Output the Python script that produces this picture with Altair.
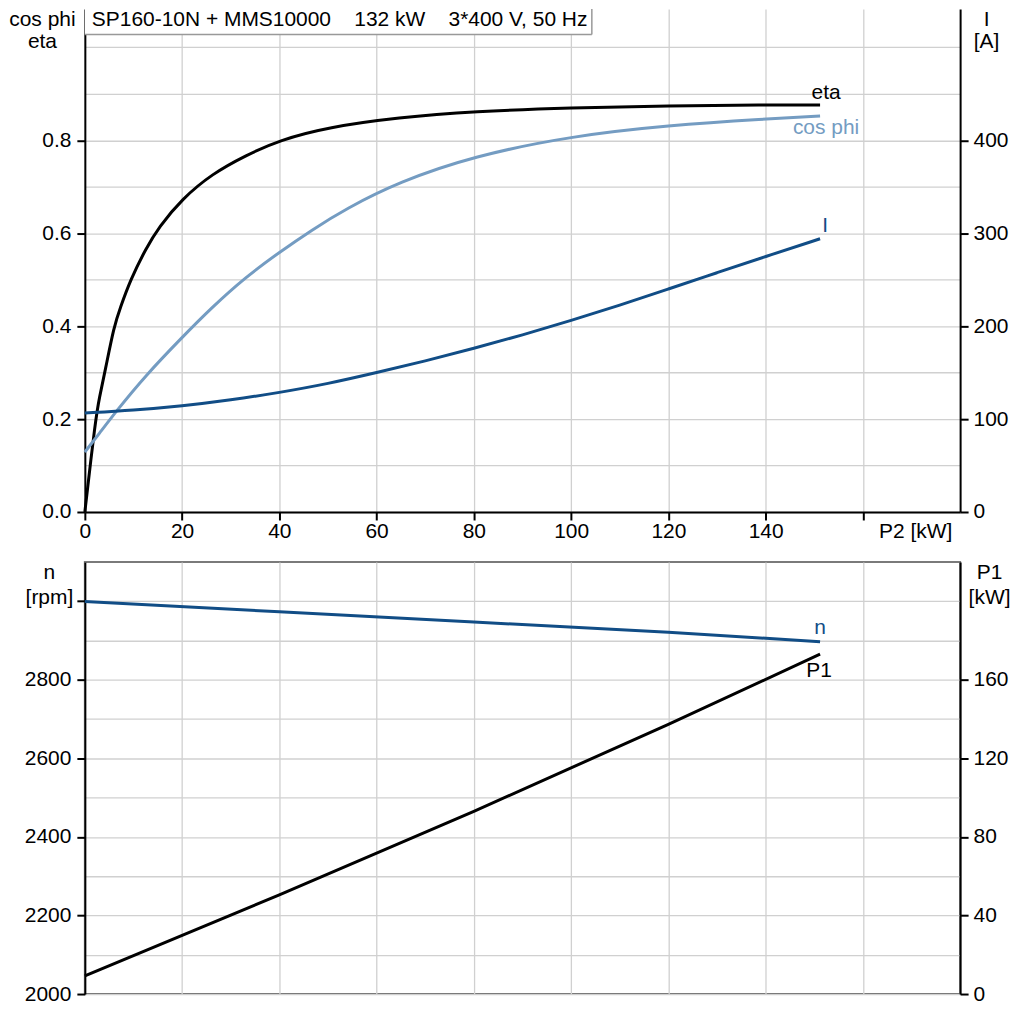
import altair as alt
import pandas as pd

FONT = "Liberation Sans"
FS = 21
C_ETA = "#000000"
C_COS = "#749cc2"
C_I = "#114d86"
C_GRID = "#d0d0d0"

NB = "\u00a0" * 4
TITLE = "SP160-10N + MMS10000" + NB + "132 kW" + NB + "3*400 V, 50 Hz"

# ---- top panel data (P2 in kW) ----
p2_eta = [0, 2.2, 3.0, 4.2, 6.0, 7.3, 9.4, 12.5, 15.2, 20, 26.2, 33, 40, 50, 64.5, 80, 100, 120, 140, 151.2]
eta = [0, 0.2, 0.247, 0.305, 0.4, 0.44, 0.5, 0.566, 0.613, 0.674, 0.728, 0.767, 0.8, 0.828, 0.849, 0.862, 0.870, 0.874, 0.876, 0.876]

p2_cos = [0, 2.9, 6.3, 12.5, 20, 26.2, 33, 40, 46.7, 53.6, 64.5, 80, 100, 120, 140, 151.2]
cosphi = [0.129, 0.168, 0.215, 0.294, 0.376, 0.441, 0.505, 0.559, 0.607, 0.652, 0.710, 0.766, 0.809, 0.832, 0.846, 0.852]

p2_i = [0, 10, 20, 30, 40, 50, 60, 70, 80, 90, 100, 110, 120, 130, 140, 151.2]
current = [106.5, 109.5, 114, 120.5, 128.5, 138, 150, 162.5, 176, 190.5, 206, 222.5, 240, 257.5, 275, 294]

# ---- bottom panel data ----
p2_bot = [0, 40, 80, 120, 151.2]
speed = [2999, 2973, 2947, 2921, 2897]
p1 = [9.3, 50.5, 93, 137.3, 173]

x_ticks = [0, 20, 40, 60, 80, 100, 120, 140, 160]
y_top_grid = [round(i * 0.1, 1) for i in range(11)]
i_ticks = [0, 100, 200, 300, 400]
n_grid = list(range(2000, 3001, 100))
p1_ticks = [0, 40, 80, 120, 160]

df_eta = pd.DataFrame({"P2": p2_eta, "v": eta})
df_cos = pd.DataFrame({"P2": p2_cos, "v": cosphi})
df_i = pd.DataFrame({"P2": p2_i, "I": current})
df_n = pd.DataFrame({"P2": p2_bot, "n": speed})
df_p1 = pd.DataFrame({"P2": p2_bot, "P1": p1})


def last(df, col, text):
    return pd.DataFrame({"P2": [df["P2"].iloc[-1]], col: [df[col].iloc[-1]], "t": [text]})


XDOM = alt.Scale(domain=[0, 180], nice=False, zero=False)

x_top = alt.X(
    "P2:Q", scale=XDOM,
    axis=alt.Axis(
        values=x_ticks, grid=True, labelFlush=False, labelPadding=1,
        labelExpr="datum.value >= 160 ? '' : datum.label",
        title="P2 [kW]", titleX=832, titleY=26, titleAlign="center",
        titleBaseline="alphabetic", titleAngle=0,
    ),
)
x_bot = alt.X(
    "P2:Q", scale=XDOM,
    axis=alt.Axis(values=x_ticks, grid=True, labels=False, ticks=False, domain=False, title=None),
)

y_left = alt.Y(
    "v:Q", scale=alt.Scale(domain=[0, 1.0825], nice=False),
    axis=alt.Axis(
        values=y_top_grid, grid=True, labelFlush=False, labelPadding=6,
        labelExpr="(round(datum.value*10) % 2 == 0 && datum.value < 0.9) ? format(datum.value, '.1f') : ''",
        tickOpacity={"condition": {"test": "round(datum.value*10) % 2 == 0 && datum.value < 0.9", "value": 1}, "value": 0},
        title=["cos phi", "eta"], titleAngle=0, titleX=-43, titleY=0,
        titleAlign="center", titleBaseline="top", titleLineHeight=22,
    ),
)
y_right = alt.Y(
    "I:Q", scale=alt.Scale(domain=[0, 541.3], nice=False),
    axis=alt.Axis(
        orient="right", values=i_ticks, grid=False, labelFlush=False, labelPadding=5,
        title=["I", "[A]"], titleAngle=0, titleX=26, titleY=0,
        titleAlign="center", titleBaseline="top", titleLineHeight=22,
    ),
)
y_n = alt.Y(
    "n:Q", scale=alt.Scale(domain=[2000, 3100], nice=False, zero=False),
    axis=alt.Axis(
        values=n_grid, grid=True, labelFlush=False, labelPadding=6,
        labelExpr="(datum.value % 200 == 0 && datum.value <= 2800) ? datum.label : ''",
        tickOpacity={"condition": {"test": "datum.value % 200 == 0", "value": 1}, "value": 0},
        format="d",
        title=["n", "[rpm]"], titleAngle=0, titleX=-36, titleY=17,
        titleAlign="center", titleBaseline="alphabetic", titleLineHeight=25,
    ),
)
y_p1 = alt.Y(
    "P1:Q", scale=alt.Scale(domain=[0, 220], nice=False),
    axis=alt.Axis(
        orient="right", values=p1_ticks, grid=False, labelFlush=False, labelPadding=5,
        title=["P1", "[kW]"], titleAngle=0, titleX=29, titleY=17,
        titleAlign="center", titleBaseline="alphabetic", titleLineHeight=25,
    ),
)

LW = 3
eta_line = alt.Chart(df_eta).mark_line(color=C_ETA, strokeWidth=LW, interpolate="basis").encode(x=x_top, y=y_left)
cos_line = alt.Chart(df_cos).mark_line(color=C_COS, strokeWidth=LW, interpolate="basis").encode(x=x_top, y=y_left)
eta_lab = alt.Chart(last(df_eta, "v", "eta")).mark_text(
    font=FONT, fontSize=FS, color=C_ETA, align="center", baseline="alphabetic", dx=6, dy=-6
).encode(x=x_top, y=y_left, text="t:N")
cos_lab = alt.Chart(last(df_cos, "v", "cos phi")).mark_text(
    font=FONT, fontSize=FS, color=C_COS, align="center", baseline="alphabetic", dx=6, dy=18
).encode(x=x_top, y=y_left, text="t:N")

df_title = pd.DataFrame({"t": [TITLE]})
box = alt.Chart(df_title).mark_rect(fill="white").encode(
    x=alt.value(0), x2=alt.value(508), y=alt.value(0), y2=alt.value(25.5))
box_r = alt.Chart(df_title).mark_rule(color="#999999", strokeWidth=1.5).encode(
    x=alt.value(508), y=alt.value(0), y2=alt.value(25.5))
box_b = alt.Chart(df_title).mark_rule(color="#999999", strokeWidth=1.5).encode(
    x=alt.value(0), x2=alt.value(508), y=alt.value(25.5))
title_txt = alt.Chart(df_title).mark_text(
    font=FONT, fontSize=FS, color="black", align="left", baseline="alphabetic"
).encode(x=alt.value(7), y=alt.value(17), text="t:N")

i_line = alt.Chart(df_i).mark_line(color=C_I, strokeWidth=LW, interpolate="basis").encode(x=x_top, y=y_right)
i_lab = alt.Chart(last(df_i, "I", "I")).mark_text(
    font=FONT, fontSize=FS, color=C_I, align="center", baseline="alphabetic", dx=5, dy=-7
).encode(x=x_top, y=y_right, text="t:N")

top = alt.layer(
    alt.layer(eta_line, cos_line, eta_lab, cos_lab, box, box_r, box_b, title_txt),
    alt.layer(i_line, i_lab),
).resolve_scale(y="independent").properties(
    width=877, height=504, view=alt.ViewBackground(stroke="transparent")
)

n_line = alt.Chart(df_n).mark_line(color=C_I, strokeWidth=LW).encode(x=x_bot, y=y_n)
n_lab = alt.Chart(last(df_n, "n", "n")).mark_text(
    font=FONT, fontSize=FS, color=C_I, align="center", baseline="alphabetic", dx=0, dy=-8
).encode(x=x_bot, y=y_n, text="t:N")
p1_line = alt.Chart(df_p1).mark_line(color=C_ETA, strokeWidth=LW).encode(x=x_bot, y=y_p1)
p1_lab = alt.Chart(last(df_p1, "P1", "P1")).mark_text(
    font=FONT, fontSize=FS, color=C_ETA, align="center", baseline="alphabetic", dx=-1, dy=23
).encode(x=x_bot, y=y_p1, text="t:N")

bottom = alt.layer(
    alt.layer(n_line, n_lab),
    alt.layer(p1_line, p1_lab),
).resolve_scale(y="independent").properties(
    width=877, height=433, view=alt.ViewBackground(stroke="#7a7a7a", strokeWidth=2)
)

chart = alt.vconcat(top, bottom, spacing=50, bounds="flush").properties(
    padding={"left": 0, "top": -2, "right": 5, "bottom": 5}
).configure_axis(
    labelFont=FONT, labelFontSize=FS, labelColor="black",
    titleFont=FONT, titleFontSize=FS, titleFontWeight="normal", titleColor="black",
    gridColor=C_GRID, gridWidth=1.3,
    tickColor="black", tickWidth=2, tickSize=8,
    domainColor="black", domainWidth=2,
).configure_view(stroke="transparent")

chart.save("out.html", embed_options={"renderer": "svg", "actions": False})
